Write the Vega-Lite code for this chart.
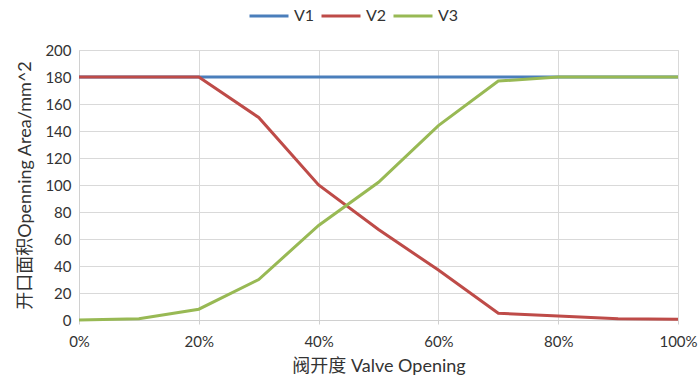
{
  "$schema": "https://vega.github.io/schema/vega-lite/v6.json",
  "width": 599,
  "height": 270,
  "autosize": {"type": "none"},
  "padding": {"left": 79, "top": 50, "right": 22, "bottom": 70},
  "background": "white",
  "data": {
    "values": [
      {"x": 0.0, "s": "V1", "v": 180}, {"x": 0.1, "s": "V1", "v": 180}, {"x": 0.2, "s": "V1", "v": 180}, {"x": 0.3, "s": "V1", "v": 180}, {"x": 0.4, "s": "V1", "v": 180}, {"x": 0.5, "s": "V1", "v": 180}, {"x": 0.6, "s": "V1", "v": 180}, {"x": 0.7, "s": "V1", "v": 180}, {"x": 0.8, "s": "V1", "v": 180}, {"x": 0.9, "s": "V1", "v": 180}, {"x": 1.0, "s": "V1", "v": 180},
      {"x": 0.0, "s": "V2", "v": 180}, {"x": 0.1, "s": "V2", "v": 180}, {"x": 0.2, "s": "V2", "v": 180}, {"x": 0.3, "s": "V2", "v": 150}, {"x": 0.4, "s": "V2", "v": 100}, {"x": 0.5, "s": "V2", "v": 67}, {"x": 0.6, "s": "V2", "v": 37}, {"x": 0.7, "s": "V2", "v": 5}, {"x": 0.8, "s": "V2", "v": 3}, {"x": 0.9, "s": "V2", "v": 1}, {"x": 1.0, "s": "V2", "v": 0.5},
      {"x": 0.0, "s": "V3", "v": 0}, {"x": 0.1, "s": "V3", "v": 1}, {"x": 0.2, "s": "V3", "v": 8}, {"x": 0.3, "s": "V3", "v": 30}, {"x": 0.4, "s": "V3", "v": 70}, {"x": 0.5, "s": "V3", "v": 102}, {"x": 0.6, "s": "V3", "v": 144}, {"x": 0.7, "s": "V3", "v": 177}, {"x": 0.8, "s": "V3", "v": 180}, {"x": 0.9, "s": "V3", "v": 180}, {"x": 1.0, "s": "V3", "v": 180}
    ]
  },
  "mark": {"type": "line", "strokeWidth": 3},
  "encoding": {
    "x": {
      "field": "x", "type": "quantitative",
      "scale": {"domain": [0, 1], "nice": false, "zero": false},
      "axis": {
        "values": [0, 0.2, 0.4, 0.6, 0.8, 1.0],
        "format": ".0%",
        "title": "阀开度 Valve Opening",
        "titleFontSize": 18, "titleFontWeight": "normal", "titlePadding": 8, "titleColor": "#333",
        "labelFontSize": 15, "labelPadding": 10, "labelColor": "#333",
        "domainColor": "#d0d0d0", "tickColor": "#d0d0d0", "tickSize": 4,
        "gridColor": "#d9d9d9", "labelFlush": false
      }
    },
    "y": {
      "field": "v", "type": "quantitative",
      "scale": {"domain": [0, 200], "nice": false},
      "axis": {
        "values": [0, 20, 40, 60, 80, 100, 120, 140, 160, 180, 200],
        "title": "开口面积Openning Area/mm^2",
        "titleFontSize": 18, "titleFontWeight": "normal", "titlePadding": 10, "titleColor": "#333",
        "labelFontSize": 15, "labelPadding": 8, "labelColor": "#333",
        "domainColor": "#d0d0d0", "ticks": false,
        "gridColor": "#d9d9d9"
      }
    },
    "color": {
      "field": "s", "type": "nominal",
      "scale": {"domain": ["V1", "V2", "V3"], "range": ["#4A7EBB", "#BE4B48", "#98B954"]},
      "legend": {
        "title": null, "orient": "none", "direction": "horizontal",
        "legendX": 169, "legendY": -55,
        "symbolType": "stroke", "symbolSize": 1521, "symbolStrokeWidth": 3,
        "labelFontSize": 16, "labelColor": "#333", "labelOffset": 4, "columnPadding": 0
      }
    },
    "order": {"field": "s"}
  },
  "config": {
    "font": "Lato, Noto Sans CJK SC",
    "view": {"stroke": "#d9d9d9"}
  }
}
